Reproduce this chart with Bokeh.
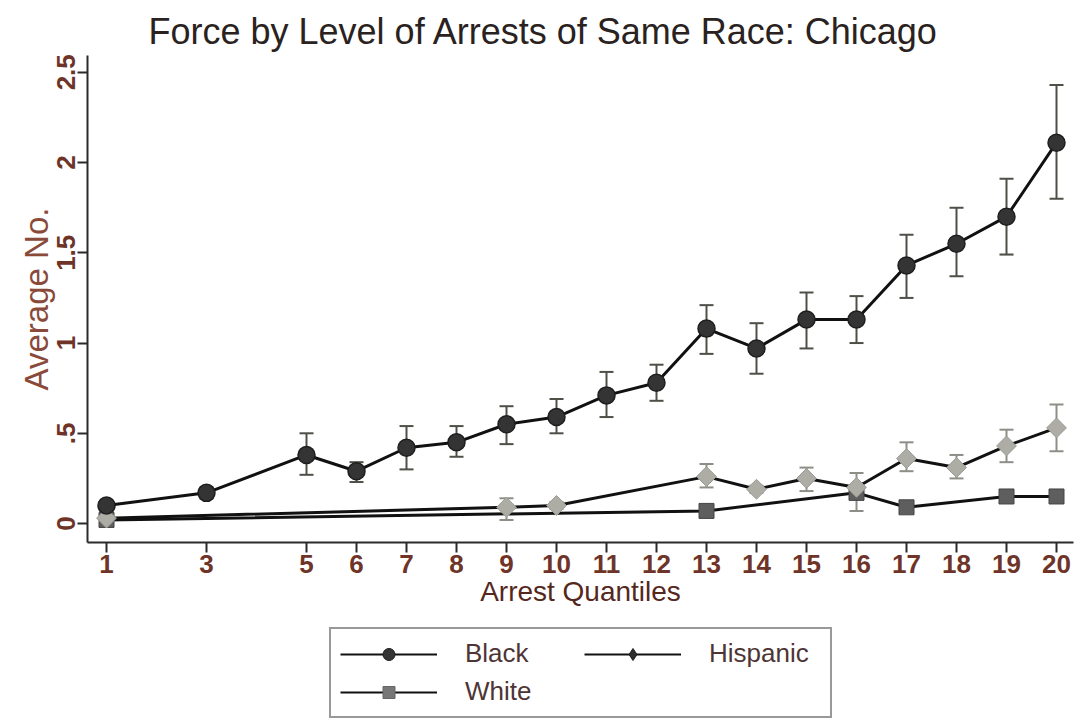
import math
from bokeh.plotting import figure
from bokeh.layouts import column
from bokeh.models import (ColumnDataSource, Range1d, FixedTicker, Whisker, TeeHead,
                          Legend, LegendItem)
from bokeh.embed import file_html
from bokeh.resources import INLINE

# ---------------- data ----------------
title_text = "Force by Level of Arrests of Same Race: Chicago"
x_label = "Arrest Quantiles"
y_label = "Average No."

x_ticks = [1, 3, 5, 6, 7, 8, 9, 10, 11, 12, 13, 14, 15, 16, 17, 18, 19, 20]
y_ticks = [0, 0.5, 1, 1.5, 2, 2.5]
y_tick_labels = ["0", ".5", "1", "1.5", "2", "2.5"]

black_q = [1, 3, 5, 6, 7, 8, 9, 10, 11, 12, 13, 14, 15, 16, 17, 18, 19, 20]
black_mean = [0.10, 0.17, 0.38, 0.29, 0.42, 0.45, 0.55, 0.59, 0.71, 0.78,
              1.08, 0.97, 1.13, 1.13, 1.43, 1.55, 1.70, 2.11]
black_lo = [0.07, 0.14, 0.27, 0.23, 0.30, 0.37, 0.44, 0.50, 0.59, 0.68,
            0.94, 0.83, 0.97, 1.00, 1.25, 1.37, 1.49, 1.80]
black_hi = [0.12, 0.20, 0.50, 0.34, 0.54, 0.54, 0.65, 0.69, 0.84, 0.88,
            1.21, 1.11, 1.28, 1.26, 1.60, 1.75, 1.91, 2.43]

hisp_q = [1, 9, 10, 13, 14, 15, 16, 17, 18, 19, 20]
hisp_mean = [0.03, 0.09, 0.10, 0.26, 0.19, 0.25, 0.20, 0.36, 0.31, 0.43, 0.53]
hisp_lo = [0.00, 0.02, 0.08, 0.20, 0.17, 0.18, 0.07, 0.29, 0.25, 0.34, 0.40]
hisp_hi = [0.08, 0.14, 0.12, 0.33, 0.21, 0.31, 0.28, 0.45, 0.38, 0.52, 0.66]

white_q = [1, 13, 16, 17, 19, 20]
white_mean = [0.02, 0.07, 0.17, 0.09, 0.15, 0.15]

series_labels = ["Black", "Hispanic", "White"]

# ---------------- main figure ----------------
FONT = "Liberation Sans"
TICK_COLOR = "#6e3428"
ROT = math.pi / 4

p = figure(width=1076, height=620,
           x_range=Range1d(0.62, 20.34), y_range=Range1d(-0.105, 2.593),
           output_backend="svg", toolbar_location=None,
           min_border_left=87, min_border_right=3,
           min_border_top=55, min_border_bottom=78)

p.title.text = title_text
p.title.align = "left"
p.title.offset = 61
p.title.standoff = 8
p.title.text_font = FONT
p.title.text_font_size = "36px"
p.title.text_font_style = "normal"
p.title.text_color = "#2a2220"

p.outline_line_color = None
p.xgrid.visible = False
p.ygrid.visible = False
p.background_fill_color = "white"
p.border_fill_color = "white"

for ax in (p.xaxis[0], p.yaxis[0]):
    ax.axis_line_color = "#2b2b2b"
    ax.axis_line_width = 2
    ax.major_tick_line_color = "#2b2b2b"
    ax.major_tick_line_width = 2
    ax.major_tick_out = 10
    ax.major_tick_in = 0
    ax.minor_tick_line_color = None
    ax.major_label_text_font = FONT
    ax.major_label_text_font_size = "26px"
    ax.major_label_text_font_style = "bold"
    ax.major_label_text_color = TICK_COLOR
    ax.major_label_standoff = 2
    ax.axis_label_text_font = FONT
    ax.axis_label_text_font_style = "normal"

p.xaxis.ticker = FixedTicker(ticks=x_ticks)
p.xaxis.axis_label = x_label
p.xaxis.axis_label_text_font_size = "28px"
p.xaxis.axis_label_text_color = "#55271d"
p.xaxis.axis_label_standoff = 0

p.yaxis.ticker = FixedTicker(ticks=y_ticks)
p.yaxis.major_label_overrides = {t: s for t, s in zip(y_ticks, y_tick_labels)}
p.yaxis.major_label_orientation = "parallel"
p.yaxis.axis_label = y_label
p.yaxis.axis_label_text_font_size = "33px"
p.yaxis.axis_label_text_color = "#8a4a3a"
p.yaxis.axis_label_standoff = 0

# ---------------- sources ----------------
src_b = ColumnDataSource(dict(q=black_q, m=black_mean, lo=black_lo, hi=black_hi))
src_h = ColumnDataSource(dict(q=hisp_q, m=hisp_mean, lo=hisp_lo, hi=hisp_hi))
src_w = ColumnDataSource(dict(q=white_q, m=white_mean))

# lines
p.line("q", "m", source=src_w, line_color="#111111", line_width=3)
p.line("q", "m", source=src_h, line_color="#111111", line_width=3)
p.line("q", "m", source=src_b, line_color="#111111", line_width=3)

# error bars
def add_whisker(src, color):
    w = Whisker(base="q", upper="hi", lower="lo", source=src, dimension="height",
                line_color=color, line_width=2,
                upper_head=TeeHead(size=14, line_color=color, line_width=2),
                lower_head=TeeHead(size=14, line_color=color, line_width=2))
    p.add_layout(w)

add_whisker(src_h, "#8e8e88")
add_whisker(src_b, "#4f4f48")

# markers
p.scatter("q", "m", source=src_w, marker="square", size=15,
          fill_color="#5e5e5e", line_color="#444444", line_width=1)
p.scatter("q", "m", source=src_h, marker="square", angle=ROT, size=14,
          fill_color="#adada6", line_color="#9a9a94", line_width=1)
p.scatter("q", "m", source=src_b, marker="circle", size=17,
          fill_color="#343434", line_color="#1e1e1e", line_width=1.5)

# ---------------- legend strip ----------------
pl = figure(width=1076, height=102, x_range=Range1d(100, 101), y_range=Range1d(100, 101),
            output_backend="svg", toolbar_location=None,
            x_axis_location=None, y_axis_location=None,
            min_border_left=0, min_border_right=0, min_border_top=0, min_border_bottom=0)
pl.outline_line_color = None
pl.xgrid.visible = False
pl.ygrid.visible = False
pl.background_fill_color = "white"
pl.border_fill_color = "white"

lb = pl.line("q", "m", source=src_b, line_color="#111111", line_width=2)
sb = pl.scatter("q", "m", source=src_b, marker="circle", size=14,
                fill_color="#343434", line_color="#1e1e1e")
lh = pl.line("q", "m", source=src_h, line_color="#111111", line_width=2)
sh = pl.scatter("q", "m", source=src_h, marker="diamond", size=17,
                fill_color="#2e2e2e", line_color="#1e1e1e")
lw = pl.line("q", "m", source=src_w, line_color="#111111", line_width=2)
sw = pl.scatter("q", "m", source=src_w, marker="square", size=13,
                fill_color="#777777", line_color="#666666")

legend = Legend(items=[
    LegendItem(label=series_labels[0], renderers=[lb, sb]),
    LegendItem(label=series_labels[1], renderers=[lh, sh]),
    LegendItem(label=series_labels[2], renderers=[lw, sw]),
])
legend.orientation = "horizontal"
legend.ncols = 2
legend.location = (242, 4)
legend.glyph_width = 97
legend.glyph_height = 30
legend.label_standoff = 28
legend.label_width = 112
legend.spacing = 7
legend.padding = 9
legend.margin = 0
legend.border_line_color = "#333333"
legend.border_line_width = 2
legend.background_fill_color = "white"
legend.background_fill_alpha = 1
legend.label_text_font = FONT
legend.label_text_font_size = "26px"
legend.label_text_color = "#4e3535"
pl.add_layout(legend, "center")

layout = column(p, pl, spacing=0)
open("out.html", "w").write(file_html(layout, INLINE))
